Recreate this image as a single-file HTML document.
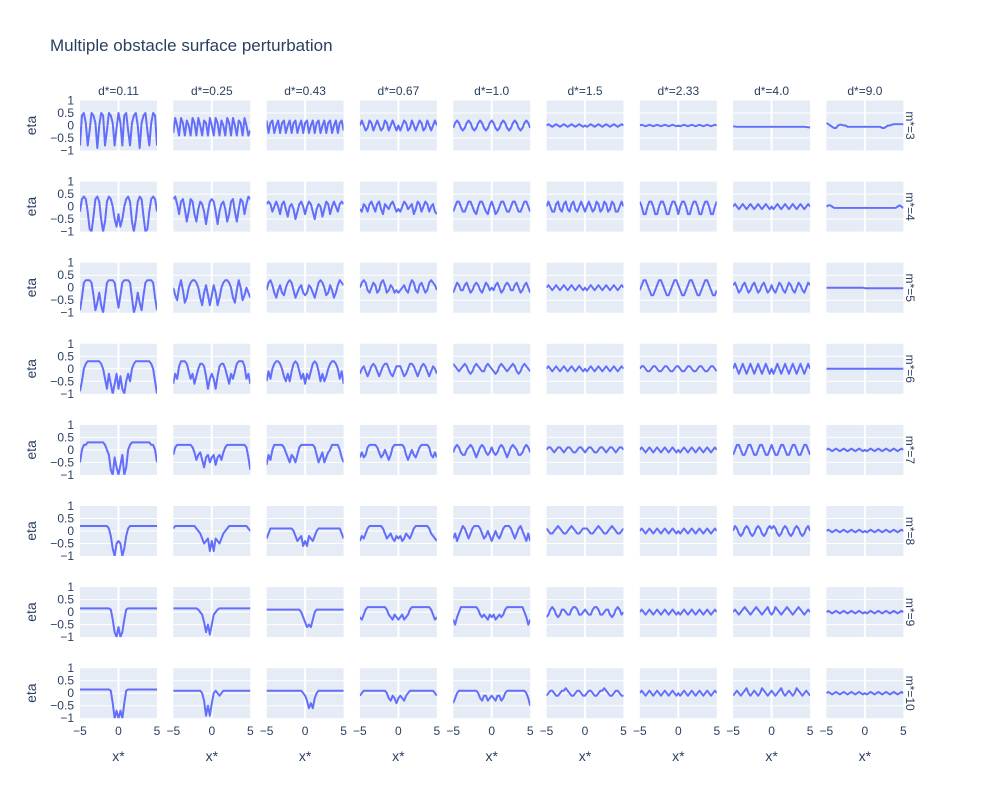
<!DOCTYPE html>
<html><head><meta charset="utf-8">
<style>
body{margin:0;background:#fff;}
svg text{font-family:"Liberation Sans",sans-serif;fill:#2a3f5f;}
</style></head>
<body>
<svg id="chart" width="1000" height="800" viewBox="0 0 1000 800" xmlns="http://www.w3.org/2000/svg">
<rect width="1000" height="800" fill="#fff"/>
<text x="50" y="51" font-size="17">Multiple obstacle surface perturbation</text>
<g id="panels"></g>
</svg>
<script>
// Column facet labels (d*) and row facet labels (m*)
const dLabels = ["d*=0.11","d*=0.25","d*=0.43","d*=0.67","d*=1.0","d*=1.5","d*=2.33","d*=4.0","d*=9.0"];
const mLabels = ["m*=3","m*=4","m*=5","m*=6","m*=7","m*=8","m*=9","m*=10"];
const yTicks = [1,0.5,0,-0.5,-1];
const yTickLabels = ["1","0.5","0","\u22120.5","\u22121"];
const xTicks = [-5,0,5];
const xTickLabels = ["\u22125","0","5"];
// eta values in tenths, sampled evenly across x* = -5..5
const rowM3 = [
"-8,4,5,1,-8,-2,5,4,1,-9,0,5,4,-8,-2,5,4,1,-8,-1,5,1,-8,4,5,-2,-8,1,4,5,0,-9,1,4,5,-2,-8,1,5,4,-8",
"-3,3,0,-4,3,1,-4,2,0,-4,3,1,-4,3,0,-4,2,1,-4,3,0,-4,3,1,-4,2,0,-4,3,1,-4,3,0,-4,2,1,-4,3,0,-4,-2",
"2,-3,1,2,-3,0,2,-3,1,2,-3,0,2,-3,1,2,-3,0,2,-3,1,2,-3,0,2,-3,1,2,-3,0,2,-3,1,2,-3,0,2,-3,1,2,-2",
"0,2,0,-2,-1,2,1,-2,0,2,0,-2,-1,2,1,-2,0,2,0,-2,0,-2,0,2,1,-2,-1,2,0,-2,0,2,1,-2,-1,2,0,-2,0,2,0",
"-1,1,2,1,-1,-2,-1,1,2,1,-1,-2,-1,1,2,1,-1,-2,-1,1,2,1,-1,-2,-1,1,2,1,-1,-2,-1,1,2,1,-1,-2,-1,1,2,1,-1",
"0,.5,0,-.5,0,.5,0,-.5,0,.5,0,-.5,0,.5,0,-.5,0,.5,0,-.5,0,-.5,0,.5,0,-.5,0,.5,0,-.5,0,.5,0,-.5,0,.5,0,-.5,0,.5,0",
"0,.3,0,-.3,0,.3,0,-.3,0,.3,0,-.3,0,.3,0,-.3,0,.3,0,-.3,0,-.3,0,.3,0,-.3,0,.3,0,-.3,0,.3,0,-.3,0,.3,0,-.3,0,.3,0",
"-.3,-.4,-.5,-.5,-.5,-.5,-.5,-.5,-.5,-.5,-.5,-.5,-.5,-.5,-.5,-.5,-.5,-.5,-.5,-.5,-.5,-.5,-.5,-.5,-.5,-.5,-.5,-.5,-.5,-.5,-.5,-.5,-.5,-.5,-.5,-.5,-.5,-.5,-.6,-.7,-.8",
"1,.5,0,-.5,-1,-1,0,.3,.3,0,0,-.5,-.5,-.5,-.5,-.5,-.5,-.5,-.5,-.5,-.5,-.5,-.5,-.5,-.5,-.5,-.5,-.5,-.5,-1,-1,-.5,0,0,.3,.5,.5,.5,.5,.5,.5"];
const rowM4 = [
"-2,3,4,3,-2,-9,-10,-4,3,4,2,-5,-10,-6,2,4,3,0,-5,-8,-3,-8,-5,0,3,4,2,-6,-10,-5,2,4,3,-4,-10,-9,-2,3,4,3,-2",
"3,4,1,-3,2,3,-1,-6,-2,3,2,-3,-6,-1,2,1,-2,-7,-2,2,3,2,-2,-7,-2,1,2,-1,-6,-3,2,3,-2,-6,-1,3,2,-3,1,4,3",
"1,2,1,-2,0,2,0,-3,1,2,-1,-4,0,1,-1,-5,-2,1,2,0,-3,0,2,1,-2,-5,-1,1,0,-4,-1,2,1,-3,0,2,0,-2,1,2,1",
"-1,-2,1,0,-2,1,2,0,-2,1,2,-1,-3,1,0,-1,1,2,0,-2,-1,-2,0,2,1,-1,0,1,-3,-1,2,1,-2,0,2,1,-2,0,1,-2,-3",
"-2,0,2,2,0,-2,-2,0,2,2,0,-2,-3,0,2,2,0,-2,-3,0,2,0,-3,-2,0,2,2,0,-2,-2,0,2,2,0,-2,-2,0,2,2,0,-2",
"0,2,0,-2,-2,1,2,-1,-2,1,2,-1,-2,1,2,-1,-2,0,2,0,-2,0,2,0,-2,-1,2,1,-2,-1,2,1,-2,-1,2,1,-2,-2,0,2,0",
"2,0,-3,-3,0,2,2,0,-3,-3,0,2,2,0,-3,-3,0,2,2,0,-3,0,2,2,0,-3,-3,0,2,2,0,-3,-3,0,2,2,0,-3,-3,0,2",
"0,1,0,-1,0,1,0,-1,0,1,0,-1,0,1,0,-1,0,1,0,-1,0,-1,0,1,0,-1,0,1,0,-1,0,1,0,-1,0,1,0,-1,0,1,0",
"0,.5,.5,0,-.5,-.5,-.5,-.5,-.5,-.5,-.5,-.5,-.5,-.5,-.5,-.5,-.5,-.5,-.5,-.5,-.5,-.5,-.5,-.5,-.5,-.5,-.5,-.5,-.5,-.5,-.5,-.5,-.5,-.5,-.5,-.5,-.5,0,.5,0,-.5"];
const rowM5 = [
"-9,-4,2,3,3,3,2,-3,-9,-6,-2,-7,-10,-4,2,3,3,3,2,-3,-8,-3,2,3,3,3,2,-4,-10,-7,-2,-6,-9,-3,2,3,3,3,2,-4,-9",
"0,-3,-5,0,3,-1,-6,-4,0,2,3,3,2,0,-4,-7,-2,1,-3,-7,-3,1,-2,-7,-4,0,2,3,3,2,0,-4,-6,-1,3,0,-5,-3,0,-2,-4",
"-1,2,3,1,-2,-4,-1,1,-2,-3,0,2,3,2,-1,-4,-2,0,1,-2,-3,-2,1,0,-2,-4,-1,2,3,2,0,-3,-2,1,-1,-4,-2,1,3,2,1",
"0,2,3,2,-1,-2,0,2,1,-2,-1,2,3,1,-2,-1,1,0,-2,-1,-2,-1,0,1,-1,-2,1,3,2,-1,-2,1,2,0,-2,-1,2,3,2,1,-1",
"-2,0,2,1,-1,-1,1,2,0,-2,-1,1,2,1,-1,-2,0,2,1,-1,0,-1,1,2,0,-2,-1,1,2,1,-1,-1,1,2,0,-2,-1,1,2,0,-2",
"0,1,0,-1,0,1,0,-1,0,1,0,-1,0,1,0,-1,0,1,0,-1,0,-1,0,1,0,-1,0,1,0,-1,0,1,0,-1,0,1,0,-1,0,1,0",
"-1,1,3,3,1,-1,-3,-3,-1,1,3,3,1,-1,-3,-3,-1,1,3,3,1,-1,-3,-3,-1,1,3,3,1,-1,-3,-3,-1,1,3,3,1,-1,-3,-3,-1",
"1,2,0,-2,-1,1,2,0,-2,-1,1,2,0,-2,-1,1,2,0,-2,-1,1,-1,-2,0,2,1,-1,-2,0,2,1,-1,-2,0,2,1,-1,-2,0,2,1",
"0,0,0,0,0,0,0,0,0,0,0,0,0,0,0,0,0,0,0,0,-.2,-.2,-.2,-.2,-.2,-.2,-.2,-.2,-.2,-.2,-.2,-.2,-.2,-.2,-.2,-.2,-.2,-.2,-.2,-.2,-.2"];
const rowM6 = [
"-9,-5,0,2,3,3,3,3,3,3,3,2,0,-4,-8,-2,-6,-10,-6,-2,-8,-3,-8,-10,-5,-2,-5,0,2,3,3,3,3,3,3,3,3,2,0,-5,-10",
"-6,-2,-4,1,3,3,3,2,-1,-4,-2,-6,-3,0,2,2,1,-3,-8,-4,-2,-4,-8,-3,1,2,2,0,-3,-6,-2,-4,-1,2,3,3,3,1,-4,-2,-6",
"-5,-1,-4,0,2,3,3,2,0,-3,-5,-2,-5,-1,2,3,2,-1,-4,-2,-6,-2,-4,-1,2,3,2,-1,-5,-2,-5,-3,0,2,3,3,2,0,-4,-1,-6",
"-2,0,1,-1,-3,-1,1,2,1,-1,-3,-1,1,2,2,0,-2,-3,-1,1,1,1,-1,-3,-2,0,2,2,1,-1,-3,-1,1,2,1,-1,-3,-1,1,0,-2",
"2,1,0,-1,0,1,2,1,-1,-2,-1,1,2,1,0,-1,-1,1,2,1,0,-1,-2,-1,1,2,1,0,-1,0,1,2,1,-1,-2,-1,1,2,1,0,-1",
"0,1,0,-1,0,1,0,-1,0,1,0,-1,0,1,0,-1,0,1,0,-1,0,-1,0,1,0,-1,0,1,0,-1,0,1,0,-1,0,1,0,-1,0,1,0",
"0,1,1,0,-1,-1,0,1,1,0,-1,-1,0,1,1,0,-1,-1,0,1,1,0,-1,-1,0,1,1,0,-1,-1,0,1,1,0,-1,-1,0,1,1,0,-1",
"0,2,0,-2,0,2,0,-2,0,2,0,-2,0,2,0,-2,0,2,0,-2,0,-2,0,2,0,-2,0,2,0,-2,0,2,0,-2,0,2,0,-2,0,2,0",
"0,0,0,0,0,0,0,0,0,0,0,0,0,0,0,0,0,0,0,0,0,0,0,0,0,0,0,0,0,0,0,0,0,0,0,0,0,0,0,0,0"];
const rowM7 = [
"-5,0,2,2,3,3,3,3,3,3,3,3,3,2,0,-2,-8,-10,-3,-7,-10,-6,-2,-10,-7,0,2,3,3,3,3,3,3,3,3,3,3,2,2,0,-5",
"-2,1,2,2,2,2,2,2,2,2,1,-1,-4,-2,-1,-4,-7,-3,-2,-5,-3,-2,-6,-3,-2,-4,-1,1,2,2,2,2,2,2,2,2,2,2,1,-3,-8",
"-6,-2,-4,0,2,2,2,2,2,1,-1,-3,-5,-2,-3,-5,-2,1,2,2,2,2,2,2,2,1,-2,-5,-3,-1,-5,-3,-1,0,2,2,2,2,0,-3,-5",
"-3,-1,-3,-2,1,2,2,2,2,1,-1,-3,-2,0,-2,-4,-2,1,2,2,2,2,2,1,-2,-4,-2,0,-2,-3,-1,1,2,2,2,2,1,-2,-3,-1,-3",
"-1,1,2,1,-1,-2,-2,0,1,2,1,-1,-3,-1,1,2,1,-1,-2,-1,1,-1,-2,-1,1,2,1,-1,-3,-1,1,2,1,0,-2,-2,-1,1,2,1,-1",
"0,1,1,0,-1,0,1,1,0,-1,0,1,1,0,-1,-1,0,1,1,0,-1,0,1,1,0,-1,-1,0,1,1,0,-1,0,1,1,0,-1,0,1,1,0",
"0,1,0,-1,0,1,0,-1,0,1,0,-1,0,1,0,-1,0,1,0,-1,0,-1,0,1,0,-1,0,1,0,-1,0,1,0,-1,0,1,0,-1,0,1,0",
"-2,0,2,2,0,-2,-2,0,2,2,0,-2,-2,0,2,2,0,-2,-2,0,2,0,-2,-2,0,2,2,0,-2,-2,0,2,2,0,-2,-2,0,2,2,0,-2",
"0,.5,0,-.5,0,.5,0,-.5,0,.5,0,-.5,0,.5,0,-.5,0,.5,0,-.5,0,-.5,0,.5,0,-.5,0,.5,0,-.5,0,.5,0,-.5,0,.5,0,-.5,0,.5,0"];
const rowM8 = [
"2,2,2,2,2,2,2,2,2,2,2,2,2,2,2,1,-2,-7,-10,-5,-4,-5,-10,-7,-2,1,2,2,2,2,2,2,2,2,2,2,2,2,2,2,2",
"1,2,2,2,2,2,2,2,2,2,2,2,1,0,-1,-3,-5,-4,-3,-8,-4,-8,-3,-4,-5,-3,-1,0,1,2,2,2,2,2,2,2,2,2,2,1,0",
"-3,-1,1,1,1,1,1,1,1,1,1,1,1,1,0,-2,-4,-3,-2,-6,-4,-6,-2,-3,-4,-2,0,1,1,1,1,1,1,1,1,1,1,1,1,-1,-3",
"-4,-2,-3,-1,1,2,2,2,2,2,2,2,1,-1,-3,-2,-1,-3,-4,-2,-3,-2,-4,-3,-1,-2,-3,-1,1,2,2,2,2,2,2,2,1,-1,-2,-3,-4",
"-3,-1,-4,-2,0,2,1,-1,-3,-1,1,2,2,2,1,-1,-3,-2,0,-2,-4,-2,0,-2,-3,-1,1,2,2,2,1,-1,-3,-1,1,2,0,-2,-4,-1,-4",
"1,0,-1,-1,0,1,2,1,0,-1,-1,0,1,2,1,0,-1,-1,0,1,1,1,0,-1,-1,0,1,2,1,0,-1,-1,0,1,2,1,0,-1,-1,0,1",
"0,1,0,-1,0,1,0,-1,0,1,0,-1,0,1,0,-1,0,1,0,-1,0,-1,0,1,0,-1,0,1,0,-1,0,1,0,-1,0,1,0,-1,0,1,0",
"0,2,1,-1,-2,-1,1,2,1,-1,-2,-1,1,2,1,-1,-2,-1,1,2,1,2,1,-1,-2,-1,1,2,1,-1,-2,-1,1,2,1,-1,-2,-1,1,2,0",
"0,.5,0,-.5,0,.5,0,-.5,0,.5,0,-.5,0,.5,0,-.5,0,.5,0,-.5,0,-.5,0,.5,0,-.5,0,.5,0,-.5,0,.5,0,-.5,0,.5,0,-.5,0,.5,0"];
const rowM9 = [
"1.5,1.5,1.5,1.5,1.5,1.5,1.5,1.5,1.5,1.5,1.5,1.5,1.5,1.5,1.5,1.5,1,-3,-8,-10,-6,-10,-8,-3,1,1.5,1.5,1.5,1.5,1.5,1.5,1.5,1.5,1.5,1.5,1.5,1.5,1.5,1.5,1.5,1.5",
"1.5,1.5,1.5,1.5,1.5,1.5,1.5,1.5,1.5,1.5,1.5,1.5,1.5,1,0,-1,-4,-8,-5,-9,-5,-1,0,1,1.5,1.5,1.5,1.5,1.5,1.5,1.5,1.5,1.5,1.5,1.5,1.5,1.5,1.5,1.5,1.5,1.5",
"1,1,1,1,1,1,1,1,1,1,1,1,1,1,1,1,1,1,0,-2,-4,-6,-5,-6,-3,0,1,1,1,1,1,1,1,1,1,1,1,1,1,1,1",
"-2,-3,-1,1,2,2,2,2,2,2,2,2,2,2,1,-1,-2,-3,-1,-2,-3,-2,-1,-3,-2,-1,1,2,2,2,2,2,2,2,2,2,2,1,-1,-3,-2",
"-3,-5,-2,0,2,2,2,2,2,2,2,2,2,1,-1,-2,-1,-2,-3,-1,-2,-1,-3,-2,-1,-2,-1,1,2,2,2,2,2,2,2,2,2,0,-2,-5,-3",
"-2,-1,1,2,1,-1,-2,-1,1,1,0,-1,-1,1,2,2,1,-1,-1,0,1,0,-1,-1,1,2,2,1,-1,-1,0,1,1,-1,-2,-1,1,2,1,-1,0",
"0,1,0,-1,0,1,0,-1,0,1,0,-1,0,1,0,-1,0,1,0,-1,0,-1,0,1,0,-1,0,1,0,-1,0,1,0,-1,0,1,0,-1,0,1,0",
"0,1,0,-1,0,1,2,1,0,-1,0,1,2,1,0,-1,0,1,2,0,-1,0,2,1,0,-1,0,1,2,1,0,-1,0,1,2,1,0,-1,0,1,0",
"0,.5,0,-.5,0,.5,0,-.5,0,.5,0,-.5,0,.5,0,-.5,0,.5,0,-.5,0,-.5,0,.5,0,-.5,0,.5,0,-.5,0,.5,0,-.5,0,.5,0,-.5,0,.5,0"];
const rowM10 = [
"1.5,1.5,1.5,1.5,1.5,1.5,1.5,1.5,1.5,1.5,1.5,1.5,1.5,1.5,1.5,1.5,1,-4,-10,-7,-10,-7,-10,-4,1,1.5,1.5,1.5,1.5,1.5,1.5,1.5,1.5,1.5,1.5,1.5,1.5,1.5,1.5,1.5,1.5",
"1,1,1,1,1,1,1,1,1,1,1,1,1,1,1,0,-3,-9,-5,-9,-4,0,1,0,-1,0,1,1,1,1,1,1,1,1,1,1,1,1,1,1,1",
"1,1,1,1,1,1,1,1,1,1,1,1,1,1,1,1,1,1,1,0,-1,-3,-6,-4,-6,-2,0,1,1,1,1,1,1,1,1,1,1,1,1,1,1",
"-1,0,1,1,1,1,1,1,1,1,1,1,1,1,0,-2,-3,-1,-2,-4,-2,-1,-2,-3,-1,0,1,1,1,1,1,1,1,1,1,1,1,1,1,0,-1",
"-4,-2,0,1,1,1,1,1,1,1,1,1,1,0,-2,-3,-1,-1,-3,-2,-1,-2,-3,-1,-1,-3,-2,0,1,1,1,1,1,1,1,1,1,1,0,-2,-5",
"-1,0,1,1,0,-1,-1,0,1,1,2,1,0,-1,-1,0,1,1,0,-1,-1,0,1,1,0,-1,-1,0,1,1,2,1,0,-1,-1,0,1,1,0,-1,-1",
"0,1,0,-1,0,1,0,-1,0,1,0,-1,0,1,0,-1,0,1,0,-1,0,-1,0,1,0,-1,0,1,0,-1,0,1,0,-1,0,1,0,-1,0,1,0",
"-1,0,1,0,-1,0,1,2,0,-1,0,1,0,-1,0,2,1,0,-1,0,1,0,-1,0,1,2,0,-1,0,1,0,-1,0,2,1,0,-1,0,1,0,-1",
"0,.5,0,-.5,0,.5,0,-.5,0,.5,0,-.5,0,.5,0,-.5,0,.5,0,-.5,0,-.5,0,.5,0,-.5,0,.5,0,-.5,0,.5,0,-.5,0,.5,0,-.5,0,.5,0"];
const allRows = [rowM3,rowM4,rowM5,rowM6,rowM7,rowM8,rowM9,rowM10];

const NS = "http://www.w3.org/2000/svg";
const g = document.getElementById('panels');
const PX0 = 80, PDX = 93.3, PW = 77, PY0 = 100.5, PDY = 81.1, PH = 50;
function xScale(c, x){ return PX0 + c*PDX + (x + 5) / 10 * PW; }
function yScale(r, y){ return PY0 + r*PDY + (1 - y) / 2 * PH; }
function mk(tag, attrs){ const e = document.createElementNS(NS, tag); for (const k in attrs) e.setAttribute(k, attrs[k]); return e; }

const defs = mk('defs', {});
g.appendChild(defs);

for (let r = 0; r < 8; r++) {
  for (let c = 0; c < 9; c++) {
    const left = PX0 + c*PDX, top = PY0 + r*PDY;
    const bg = mk('rect', {x:left, y:top, width:PW, height:PH, fill:'#E5ECF6'});
    
    
    g.appendChild(bg);
    for (const t of [0.5, 0, -0.5]) {
      const ln = mk('line', {x1:left, x2:left+PW, y1:yScale(r,t), y2:yScale(r,t), stroke:'#fff', 'stroke-width':1});
      
      
      g.appendChild(ln);
    }
    const vx = xScale(c, 0);
    const vl = mk('line', {x1:vx, x2:vx, y1:top, y2:top+PH, stroke:'#fff', 'stroke-width':2});
    
    
    g.appendChild(vl);

    const cid = 'clip' + r + '_' + c;
    const cp = mk('clipPath', {id:cid});
    cp.appendChild(mk('rect', {x:left, y:top, width:PW, height:PH}));
    defs.appendChild(cp);

    const vals = allRows[r][c].split(',').map(Number);
    const n = vals.length;
    let d = '';
    vals.forEach((v, i) => {
      const x = -5 + 10 * i / (n - 1);
      d += (i ? 'L' : 'M') + xScale(c, x).toFixed(2) + ',' + yScale(r, v / 10).toFixed(2);
    });
    const path = mk('path', {d:d, fill:'none', stroke:'#636efa', 'stroke-width':2, 'stroke-linejoin':'round', 'clip-path':'url(#'+cid+')'});
    
    
    g.appendChild(path);
  }
  yTicks.forEach((t, i) => {
    const tx = mk('text', {x:74, y:yScale(r,t)+4, 'font-size':12, 'text-anchor':'end'});
    tx.textContent = yTickLabels[i];
    
    
    g.appendChild(tx);
  });
  const cy = PY0 + r*PDY + PH/2;
  const yt = mk('text', {x:0, y:0, 'font-size':14, 'text-anchor':'middle', transform:'translate(36,'+cy+') rotate(-90)'});
  yt.textContent = 'eta';
  
  
  g.appendChild(yt);
  const rl = mk('text', {x:0, y:0, 'font-size':12, 'text-anchor':'middle', transform:'translate(906,'+cy+') rotate(90)'});
  rl.textContent = mLabels[r];
  
  
  g.appendChild(rl);
}
for (let c = 0; c < 9; c++) {
  const cx = PX0 + c*PDX + PW/2;
  const ct = mk('text', {x:cx, y:95, 'font-size':12, 'text-anchor':'middle'});
  ct.textContent = dLabels[c];
  
  
  g.appendChild(ct);
  xTicks.forEach((t, i) => {
    const tx = mk('text', {x:xScale(c,t), y:735, 'font-size':12, 'text-anchor':'middle'});
    tx.textContent = xTickLabels[i];
    
    
    g.appendChild(tx);
  });
  const xt = mk('text', {x:cx, y:761, 'font-size':14, 'text-anchor':'middle'});
  xt.textContent = 'x*';
  
  
  g.appendChild(xt);
}
</script>
</body></html>
